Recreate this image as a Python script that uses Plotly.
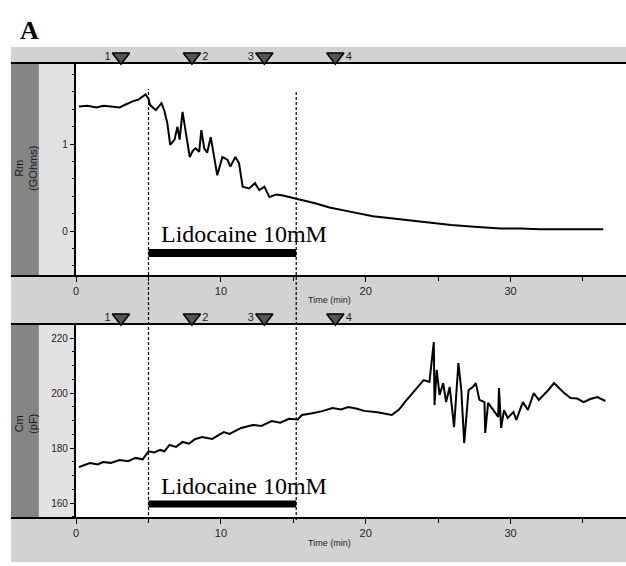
import plotly.graph_objects as go

# ---------------- data ----------------
rm_time = [0.2, 0.8, 1.4, 1.9, 2.4, 3.0, 3.5, 3.9, 4.3, 4.8, 5.0, 5.1, 5.3, 5.5, 5.7, 5.9,
           6.1, 6.3, 6.5, 6.8, 7.0, 7.15, 7.35, 7.55, 7.85, 8.05, 8.25, 8.5, 8.65, 8.85,
           9.05, 9.3, 9.55, 9.75, 10.1, 10.45, 10.65, 11.0, 11.25, 11.5, 11.95, 12.35,
           12.65, 13.0, 13.35, 13.8, 14.2, 14.7, 15.1, 15.8, 16.5, 17.5, 18.2, 19.0, 20.5,
           21.5, 22.5, 24.0, 25.9, 27.5, 29.3, 30.7, 32.0, 33.5, 35.0, 36.4]
rm_values = [1.43, 1.44, 1.42, 1.44, 1.43, 1.42, 1.46, 1.49, 1.51, 1.57, 1.52, 1.45, 1.42,
             1.39, 1.43, 1.47, 1.38, 1.24, 0.99, 1.05, 1.20, 1.05, 1.37, 1.16, 0.85, 0.92,
             0.95, 0.91, 1.16, 0.95, 0.90, 1.08, 0.82, 0.64, 0.85, 0.82, 0.74, 0.85, 0.78,
             0.51, 0.49, 0.55, 0.47, 0.51, 0.39, 0.42, 0.41, 0.39, 0.38, 0.35, 0.32, 0.27,
             0.25, 0.22, 0.17, 0.15, 0.13, 0.10, 0.07, 0.05, 0.03, 0.03, 0.02, 0.02, 0.02, 0.02]

cm_time = [0.2, 0.96, 1.5, 1.86, 2.4, 3.0, 3.6, 4.1, 4.6, 4.8, 5.0, 5.4, 5.8, 6.1, 6.45,
           6.9, 7.35, 7.8, 8.2, 8.7, 9.4, 10.2, 10.6, 11.4, 12.2, 12.8, 13.5, 14.1, 14.7,
           15.3, 15.6, 16.3, 17.0, 17.7, 18.3, 18.8, 19.4, 19.9, 20.8, 21.8, 22.3, 22.7,
           23.4, 24.0, 24.4, 24.7, 24.75, 24.9, 25.1, 25.35, 25.55, 25.8, 26.1, 26.4, 26.6,
           26.8, 27.1, 27.4, 27.6, 27.85, 28.2, 28.25, 28.45, 28.8, 29.15, 29.2, 29.35,
           29.55, 29.8, 30.2, 30.4, 30.85, 31.2, 31.6, 31.95, 32.6, 33.0, 33.7, 34.15,
           34.6, 35.05, 35.5, 36.0, 36.55]
cm_values = [173.1, 174.5, 174.0, 174.9, 174.6, 175.6, 175.2, 176.4, 175.9, 177.2, 178.8,
             178.4, 179.3, 178.8, 181.1, 180.4, 182.2, 181.6, 183.2, 184.0, 183.3, 185.8,
             185.1, 187.3, 188.4, 188.0, 189.8, 189.2, 190.6, 190.4, 192.0, 192.6, 193.4,
             194.5, 194.0, 194.9, 194.3, 193.5, 193.0, 192.0, 194.0, 196.7, 201.0, 204.7,
             204.0, 218.5, 195.6, 208.4, 199.3, 203.6, 196.7, 202.2, 187.6, 210.9, 201.0,
             181.8, 201.0, 202.2, 203.6, 197.5, 196.7, 185.5, 196.4, 193.8, 191.3, 201.8,
             187.3, 193.8, 190.9, 193.1, 190.2, 196.7, 193.8, 200.0, 197.5, 201.0, 203.6,
             200.0, 198.2, 198.0, 196.7, 197.8, 198.5, 197.1]

event_times = [3.1, 8.0, 13.0, 17.9]
event_labels = ["1", "2", "3", "4"]
event_label_side = ["middle left", "middle right", "middle left", "middle right"]

lido_start = 5.0
lido_end = 15.2
lido_label = "Lidocaine 10mM"

x_tick_vals = [0, 10, 20, 30]
rm_tick_vals = [0, 1]
cm_tick_vals = [160, 180, 200, 220]

# ---------------- layout helpers (pixels -> paper) ----------------
W, H = 626, 566


def px(x):
    return x / W


def py(y):
    return 1 - y / H


X_RANGE = [-0.03, 37.56]
RM_RANGE = [-0.517, 1.931]
CM_RANGE = [154.55, 225.09]

GRAY = "#d2d2d2"
LIGHT = "#e2e2e2"
DARK = "#858585"

fig = go.Figure()

fig.add_trace(go.Scatter(x=rm_time, y=rm_values, mode="lines",
                         line=dict(color="black", width=2),
                         xaxis="x", yaxis="y", showlegend=False))
fig.add_trace(go.Scatter(x=cm_time, y=cm_values, mode="lines",
                         line=dict(color="black", width=2),
                         xaxis="x2", yaxis="y2", showlegend=False))

# event markers in the strips above each panel (own strip axes y3 / y4)
for ya, xa in [("y3", "x"), ("y4", "x2")]:
    fig.add_trace(go.Scatter(x=event_times, y=[0.45] * len(event_times), mode="markers+text",
                             text=event_labels, textposition=event_label_side,
                             textfont=dict(family="Liberation Sans", size=11, color="#222"),
                             marker=dict(symbol="triangle-down", size=15, color="#555",
                                         line=dict(color="black", width=1.5)),
                             cliponaxis=False, xaxis=xa, yaxis=ya, showlegend=False))

shapes = []
# gray frame
shapes.append(dict(type="rect", xref="paper", yref="paper", x0=px(8), x1=1.0,
                   y0=py(562), y1=py(47), fillcolor=GRAY, line=dict(width=0), layer="below"))
for (ytop, ybot) in [(63, 276), (324, 518)]:
    shapes.append(dict(type="rect", xref="paper", yref="paper", x0=px(36), x1=px(73),
                       y0=py(ybot), y1=py(ytop), fillcolor=LIGHT, line=dict(width=0), layer="below"))
    shapes.append(dict(type="rect", xref="paper", yref="paper", x0=px(8), x1=px(36),
                       y0=py(ybot), y1=py(ytop), fillcolor=DARK, line=dict(width=0), layer="below"))
    shapes.append(dict(type="rect", xref="paper", yref="paper", x0=px(73), x1=1.0,
                       y0=py(ybot), y1=py(ytop), fillcolor="white", line=dict(width=0), layer="below"))
for yl in [63, 276, 324, 518]:
    shapes.append(dict(type="line", xref="paper", yref="paper", x0=px(8), x1=1.0,
                       y0=py(yl), y1=py(yl), line=dict(color="black", width=2), layer="below"))

# dashed lines marking drug application
shapes.append(dict(type="line", xref="x", yref="paper", x0=lido_start, x1=lido_start,
                   y0=py(520), y1=py(89), line=dict(color="black", width=1.2, dash="3px,2px"),
                   layer="below"))
shapes.append(dict(type="line", xref="x", yref="paper", x0=lido_end, x1=lido_end,
                   y0=py(520), y1=py(92), line=dict(color="black", width=1.2, dash="3px,2px"),
                   layer="below"))

# application bars
shapes.append(dict(type="rect", xref="x", yref="y", x0=lido_start, x1=lido_end,
                   y0=-0.298, y1=-0.207, fillcolor="black", line=dict(width=0)))
shapes.append(dict(type="rect", xref="x2", yref="y2", x0=lido_start, x1=lido_end,
                   y0=158.4, y1=160.9, fillcolor="black", line=dict(width=0)))

annotations = [
    dict(text="<b>A</b>", xref="paper", yref="paper", x=px(15), y=py(14), xanchor="left",
         yanchor="top", showarrow=False,
         font=dict(family="Liberation Serif", size=26, color="black")),
    dict(text="Rm<br>(GOhms)", xref="paper", yref="paper", x=px(23), y=py(168),
         textangle=-90, showarrow=False, xanchor="center", yanchor="middle",
         font=dict(family="Liberation Sans", size=11, color="#1a1a1a")),
    dict(text="Cm<br>(pF)", xref="paper", yref="paper", x=px(23), y=py(424),
         textangle=-90, showarrow=False, xanchor="center", yanchor="middle",
         font=dict(family="Liberation Sans", size=11, color="#1a1a1a")),
    dict(text="Time (min)", xref="paper", yref="paper", x=px(328), y=py(300),
         showarrow=False, xanchor="center", yanchor="middle",
         font=dict(family="Liberation Sans Narrow, Liberation Sans", size=9, color="#222")),
    dict(text="Time (min)", xref="paper", yref="paper", x=px(328), y=py(543),
         showarrow=False, xanchor="center", yanchor="middle",
         font=dict(family="Liberation Sans Narrow, Liberation Sans", size=9, color="#222")),
    dict(text=lido_label, xref="x", yref="paper", x=lido_start + 0.75, y=py(234),
         showarrow=False, xanchor="left", yanchor="middle",
         font=dict(family="Liberation Serif", size=24, color="black")),
    dict(text=lido_label, xref="x2", yref="paper", x=lido_start + 0.75, y=py(486),
         showarrow=False, xanchor="left", yanchor="middle",
         font=dict(family="Liberation Serif", size=24, color="black")),
]

tickfont_x = dict(family="Liberation Sans", size=11, color="#222")
tickfont_y = dict(family="Liberation Sans Narrow, Liberation Sans", size=10, color="#222")


def xaxis_cfg(anchor):
    return dict(domain=[px(73), px(620)], range=X_RANGE, anchor=anchor,
                tickvals=x_tick_vals, ticks="outside", ticklen=5, tickwidth=1,
                tickcolor="black", tickfont=tickfont_x, showgrid=False, zeroline=False,
                showline=False, fixedrange=True,
                minor=dict(dtick=5, tick0=0, ticks="outside", ticklen=4, tickcolor="black",
                           showgrid=False))


strip_axis = dict(range=[0, 1], visible=False, showgrid=False, zeroline=False, fixedrange=True)

fig.update_layout(
    width=W, height=H,
    margin=dict(l=0, r=0, t=0, b=0),
    paper_bgcolor="white",
    plot_bgcolor="rgba(0,0,0,0)",
    showlegend=False,
    xaxis=xaxis_cfg("y"),
    xaxis2=xaxis_cfg("y2"),
    yaxis=dict(domain=[py(276), py(63)], range=RM_RANGE, anchor="x",
               tickvals=rm_tick_vals, ticks="outside", ticklen=4, tickcolor="black",
               tickfont=tickfont_y, showline=True, linecolor="black", linewidth=1.5,
               showgrid=False, zeroline=False, fixedrange=True,
               minor=dict(dtick=0.2, tick0=0, ticks="outside", ticklen=2,
                          tickcolor="black", showgrid=False)),
    yaxis2=dict(domain=[py(518), py(324)], range=CM_RANGE, anchor="x2",
                tickvals=cm_tick_vals, ticks="outside", ticklen=4, tickcolor="black",
                tickfont=tickfont_y, showline=True, linecolor="black", linewidth=1.5,
                showgrid=False, zeroline=False, fixedrange=True,
                minor=dict(dtick=5, tick0=0, ticks="outside", ticklen=2,
                           tickcolor="black", showgrid=False)),
    yaxis3=dict(domain=[py(64), py(48)], anchor="x", **strip_axis),
    yaxis4=dict(domain=[py(325), py(309)], anchor="x2", **strip_axis),
    shapes=shapes,
    annotations=annotations,
)

fig.write_html("out.html")
